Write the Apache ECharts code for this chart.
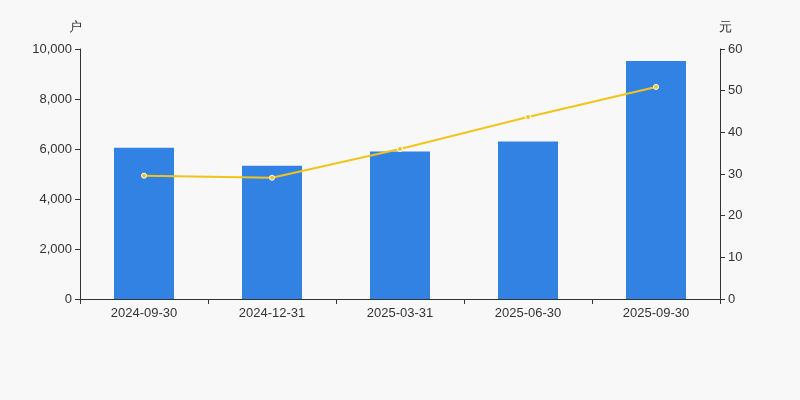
<!DOCTYPE html><html><head><meta charset="utf-8"><script src="https://cdn.jsdelivr.net/npm/echarts@6/dist/echarts.min.js"></script></head><body style="margin:0;background:#f8f8f8"><div id="c" style="width:800px;height:400px"></div><script>
const categories=['2024-09-30','2024-12-31','2025-03-31','2025-06-30','2025-09-30'];
const holders=[6050,5330,5900,6300,9520];
const price=[29.6,29.1,36.0,43.7,50.9];
const c=echarts.init(document.getElementById('c'));
const ax={color:'#333',fontSize:13};
c.setOption({backgroundColor:'#f8f8f8',animation:false,
grid:{left:80,right:80,top:49,bottom:101},
xAxis:{type:'category',data:categories,axisTick:{show:true,alignWithLabel:false},axisLine:{lineStyle:{color:'#333'}},axisLabel:ax},
yAxis:[{type:'value',name:'户',min:0,max:10000,interval:2000,nameTextStyle:{color:'#333',fontSize:13,padding:[0,0,0,-10]},axisLine:{show:true,lineStyle:{color:'#333'}},axisTick:{show:true},splitLine:{show:false},axisLabel:ax},
{type:'value',name:'元',min:0,max:60,interval:10,nameTextStyle:{color:'#333',fontSize:13,padding:[0,0,0,10]},axisLine:{show:true,lineStyle:{color:'#333'}},axisTick:{show:true},splitLine:{show:false},axisLabel:ax}],
series:[{type:'bar',data:holders,barWidth:60,itemStyle:{color:'#3282e3'}},
{type:'line',yAxisIndex:1,data:price,symbol:'circle',symbolSize:5,lineStyle:{color:'#f2c31a',width:2},itemStyle:{color:'#f2c31a',borderColor:'#fff',borderWidth:1}}]});
</script></body></html>
